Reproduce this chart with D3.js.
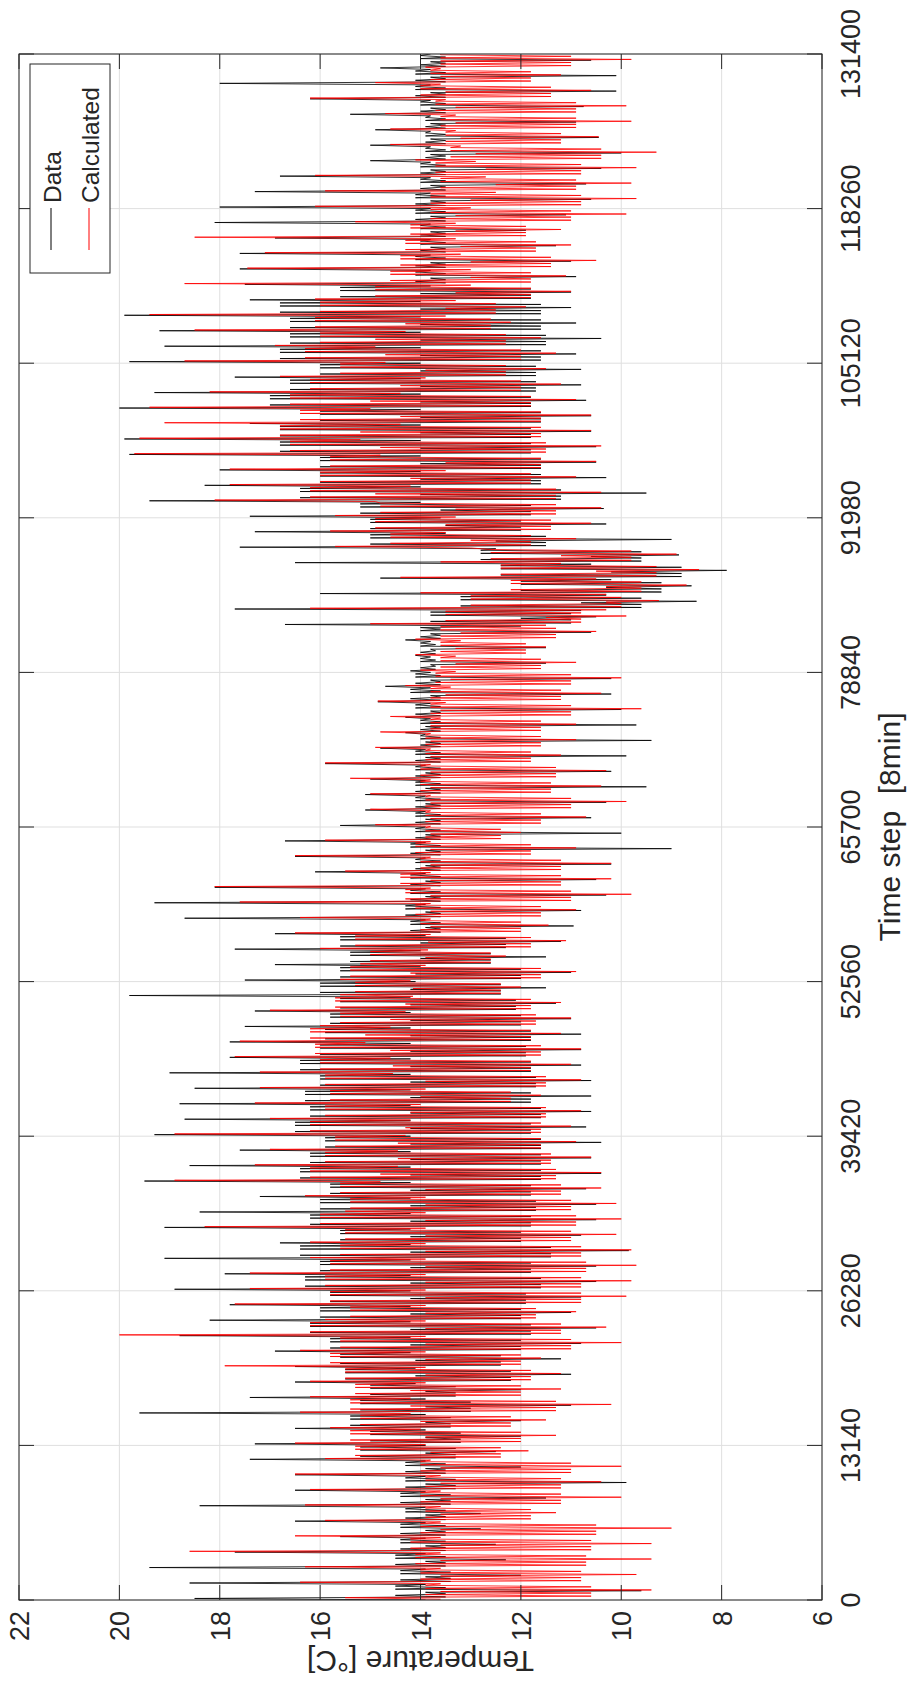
<!DOCTYPE html>
<html>
<head>
<meta charset="utf-8">
<script src="https://cdn.jsdelivr.net/npm/d3@7/dist/d3.min.js"></script>
<style>
  html, body { margin: 0; padding: 0; background: #fff; }
  text { font-family: "Liberation Sans", Arial, Helvetica, sans-serif; fill: #262626; }
</style>
</head>
<body>
<div id="chart"></div>
<script>
// time ticks (8 min steps) and temperature ticks
var timeTicks = [0, 13140, 26280, 39420, 52560, 65700, 78840, 91980, 105120, 118260, 131400];
var tempTicks = [6, 8, 10, 12, 14, 16, 18, 20, 22];
var binStep = 1314; // one bin = 1314 time steps, 100 bins

// Data (measured): baseline, outer spikes and the dense inner band, one value per bin
var dataBase = [13.9,13.9,13.9,13.9,13.9,13.9,13.9,13.9,13.9,13.9,
  13.9,13.9,13.9,13.9,14.1,14.1,14.2,14.2,14.2,14.2,
  14.2,14.2,14.2,14.2,14.2,14.2,14.2,14.2,14.2,14.2,
  14.2,14.2,14.2,14.2,14.2,14.2,14.2,14.2,14.2,14.2,
  14.1,14.0,14.0,13.9,13.9,13.9,13.9,13.9,13.9,13.9,
  13.9,13.9,13.9,13.9,13.9,13.9,13.9,13.8,13.8,13.8,
  13.8,13.8,13.8,12.0,10.8,10.3,10.2,10.6,12.5,13.5,
  13.6,14.0,14.0,14.0,14.0,14.0,14.0,14.0,14.0,14.0,
  14.0,14.0,14.0,14.0,14.0,13.8,13.8,13.8,13.8,13.8,
  13.8,13.8,13.8,13.8,13.8,13.8,13.8,13.8,13.8,13.8];
var dataHi = [18.5,18.6,19.4,17.7,15.6,16.5,18.4,16.5,16.5,17.4,
  17.3,16.5,19.6,17.4,16.5,16.5,16.9,18.8,18.2,17.8,
  18.9,17.9,19.1,16.8,19.1,18.4,17.2,19.5,18.6,17.6,
  19.3,18.7,18.8,18.5,19.0,17.8,17.8,17.5,17.3,19.8,
  17.5,16.9,17.7,16.9,18.7,19.3,18.1,16.1,16.5,16.7,
  15.6,15.1,15.1,15.0,15.9,14.8,14.3,14.3,14.85,14.7,
  14.2,14.1,14.3,16.7,17.7,16.0,14.8,16.5,17.6,17.3,
  17.4,19.4,18.3,18.0,19.8,19.9,17.4,20.0,19.3,17.7,
  19.8,19.1,19.2,19.9,17.4,17.5,17.6,17.6,16.9,18.1,
  18.0,17.3,16.8,15.0,15.0,14.9,15.4,16.2,18.0,14.8];
var dataLo = [9.6,12.0,12.3,12.5,12.8,12.8,11.5,9.9,12.0,12.5,
  12.0,12.0,11.0,12.0,11.0,11.2,10.8,10.5,11.0,10.8,
  10.5,10.5,9.85,10.8,10.5,10.5,10.7,10.4,10.6,10.4,
  10.7,10.6,10.6,10.6,10.8,10.8,10.8,11.0,11.3,11.5,
  11.0,11.5,11.2,10.95,10.8,10.3,10.5,10.2,9.0,10.0,
  10.6,10.3,9.5,10.2,9.9,9.4,9.7,10.0,10.2,10.2,
  11.5,11.5,10.6,10.5,8.5,8.6,7.9,8.85,9.0,10.3,
  10.35,9.5,10.3,10.5,10.5,10.6,10.6,10.7,10.8,10.8,
  10.9,10.4,10.9,11.0,11.0,10.9,11.0,11.3,11.9,11.1,
  10.6,10.7,10.4,10.0,10.45,10.9,10.75,10.1,10.1,10.6];
var dataInHi = [14.5,14.4,14.5,14.4,14.4,14.3,14.4,14.3,14.3,15.2,
  15.0,15.4,15.2,15.0,15.5,15.6,15.8,16.2,16.0,15.8,
  16.3,16.0,16.4,15.6,16.2,16.0,15.8,16.4,16.2,15.9,
  16.5,16.2,16.3,16.0,16.4,16.0,15.9,15.8,15.6,16.0,
  15.6,15.4,15.6,14.2,14.3,14.2,14.2,14.1,14.2,14.1,
  14.1,14.1,14.1,14.1,14.1,14.0,14.0,14.1,14.2,14.1,
  14.0,14.0,14.0,13.8,13.2,12.0,12.4,12.8,15.0,15.0,
  15.2,16.4,16.0,16.0,16.8,16.8,16.0,17.0,16.6,16.0,
  16.8,16.6,16.6,16.8,15.6,14.1,14.1,14.0,14.0,14.1,
  14.1,14.0,14.0,13.9,13.9,13.9,14.0,14.1,14.1,14.0];
var dataInLo = [13.5,13.4,13.5,13.5,13.5,13.5,13.4,13.3,13.5,13.3,
  13.2,13.4,13.0,13.3,12.2,12.4,12.0,11.8,12.0,11.9,
  11.6,11.8,11.4,12.0,11.8,11.7,11.8,11.6,11.6,11.6,
  11.8,11.6,11.8,11.7,11.8,11.9,11.8,12.0,12.1,12.4,
  12.0,12.6,12.3,13.6,13.6,13.6,13.6,13.6,13.6,13.6,
  13.6,13.6,13.6,13.6,13.6,13.6,13.6,13.6,13.6,13.6,
  13.7,13.7,13.6,11.0,9.6,9.2,8.8,9.6,11.5,12.0,
  11.8,11.2,11.6,11.6,11.8,11.8,11.6,11.8,11.7,11.7,
  11.6,11.5,11.6,11.6,11.8,13.5,13.5,13.5,13.5,13.5,
  13.5,13.5,13.5,13.5,13.5,13.5,13.5,13.5,13.5,13.5];

// Calculated: slow spine, outer spikes and the dense inner band
var calcMid = [13.6,13.6,13.6,13.6,13.6,13.6,13.6,13.6,13.6,13.8,
  13.9,14.0,14.2,14.2,13.9,13.9,13.9,13.9,13.9,13.9,
  13.9,13.9,13.9,13.9,13.9,13.9,13.9,14.8,14.45,14.45,
  14.3,14.2,14.0,13.9,14.55,14.6,15.1,14.6,14.3,14.15,
  14.2,13.9,13.85,13.8,13.8,13.8,13.8,13.8,13.8,13.8,
  13.8,13.8,13.8,13.8,13.8,13.8,13.8,13.6,13.5,13.4,
  13.3,13.3,13.2,11.5,10.3,10.3,10.5,11.2,13.0,13.5,
  13.3,14.9,14.2,13.5,14.8,15.2,14.4,15.0,14.4,13.9,
  14.7,14.9,14.3,13.5,13.3,13.0,13.0,13.2,13.3,13.3,
  13.0,12.5,12.7,12.9,13.2,13.3,13.3,13.5,13.6,13.6];
var calcHi = [15.5,16.4,16.3,18.6,16.5,15.9,16.3,16.2,16.5,15.9,
  16.5,15.8,16.4,16.2,16.2,17.9,16.4,20.0,15.9,17.7,
  17.4,17.4,16.2,16.2,18.3,15.5,16.3,18.9,17.3,17.0,
  18.9,17.0,17.3,17.2,17.2,17.7,17.6,16.0,17.0,15.6,
  15.6,15.2,16.0,16.5,16.4,17.6,18.1,15.5,16.5,15.9,
  14.9,15.0,15.0,15.4,15.9,14.9,14.8,14.6,14.85,14.3,
  14.0,14.1,14.1,15.0,16.2,14.0,14.4,13.6,15.7,15.8,
  15.7,18.1,17.8,17.8,19.7,19.6,19.1,19.4,18.2,16.8,
  18.7,16.9,18.5,19.4,16.1,18.7,17.45,17.1,18.5,15.3,
  16.1,15.9,16.1,14.1,14.6,14.6,14.7,16.2,14.9,13.9];
var calcLo = [9.4,9.7,9.4,9.4,9.0,11.3,10.0,10.4,10.0,11.85,
  11.3,11.5,10.2,11.2,11.2,11.6,10.0,10.3,10.9,9.9,
  9.8,9.7,9.8,10.1,10.0,10.1,10.4,10.4,10.6,10.9,
  11.0,10.8,11.6,10.8,11.0,10.8,11.2,11.0,11.2,12.0,
  10.9,12.3,11.1,11.45,10.9,9.8,10.2,10.2,10.9,12.0,
  10.7,9.9,10.4,10.3,11.2,10.9,10.9,9.6,10.4,10.0,
  10.9,11.5,10.5,9.9,9.25,8.7,8.45,8.9,10.9,10.6,
  10.4,10.4,10.9,10.5,10.4,10.6,10.6,10.9,11.2,11.5,
  11.3,11.6,12.2,11.9,11.0,11.1,10.5,11.0,11.2,9.9,
  9.7,9.8,9.7,9.3,10.45,9.8,9.9,10.6,11.2,9.8];
var calcInHi = [13.9,14.0,14.1,14.2,14.0,13.9,14.0,13.9,14.0,15.3,
  15.4,15.2,15.4,15.3,15.5,15.8,15.6,16.2,15.4,15.8,
  15.9,15.8,15.6,15.5,16.0,15.4,15.6,16.2,15.9,15.7,
  16.2,15.9,15.8,15.9,16.0,16.1,16.2,15.6,15.7,15.3,
  15.4,15.0,15.3,14.0,14.1,14.3,14.4,14.0,14.1,13.9,
  13.9,13.9,14.0,14.0,13.9,13.9,13.8,13.8,13.8,13.7,
  13.6,13.6,13.6,13.5,13.0,12.2,12.4,12.6,14.6,14.9,
  14.8,16.2,16.0,15.8,16.6,16.8,16.4,16.6,16.2,15.6,
  16.3,16.0,16.1,16.0,14.9,14.6,14.4,14.3,14.2,13.8,
  13.8,13.6,13.7,13.4,13.5,13.6,13.7,14.0,13.8,13.6];
var calcInLo = [10.6,10.8,10.7,10.6,10.5,11.8,11.2,11.2,11.0,12.4,
  12.0,12.2,11.3,12.0,11.8,12.0,11.0,11.2,11.7,10.8,
  10.8,10.7,10.8,11.0,10.9,11.0,11.2,11.3,11.4,11.6,
  11.6,11.5,12.2,11.5,11.8,11.6,11.8,11.7,11.8,12.4,
  11.6,12.6,11.8,12.0,11.6,11.0,11.2,11.2,11.8,12.4,
  11.6,11.0,11.4,11.3,11.8,11.6,11.6,11.0,11.2,11.0,
  11.6,11.9,11.3,10.8,10.0,9.6,9.3,9.8,11.8,11.4,
  11.3,11.3,11.8,11.6,11.5,11.6,11.6,11.8,12.0,12.3,
  12.0,12.3,12.6,12.5,11.8,11.8,11.4,11.7,11.9,11.0,
  10.8,10.9,10.8,10.4,11.2,10.9,10.9,11.4,11.8,11.0];

var W = 907, H = 1684;

// the figure is drawn in landscape and turned a quarter turn
var x = d3.scaleLinear().domain([0, 131400]).range([84, 1630]);
var y = d3.scaleLinear().domain([6, 22]).range([822, 19]);

var svg = d3.select("#chart").append("svg")
    .attr("width", W)
    .attr("height", H);

var g = svg.append("g").attr("transform", "translate(0," + H + ") rotate(-90)");

g.append("clipPath").attr("id", "plotClip")
  .append("rect")
    .attr("x", x(0)).attr("y", y(22))
    .attr("width", x(131400) - x(0)).attr("height", y(6) - y(22));

// grid
var grid = g.append("g").attr("stroke", "#dfdfdf").attr("stroke-width", 1);
grid.selectAll("line.v").data(timeTicks).enter().append("line")
    .attr("x1", function (d) { return x(d); }).attr("x2", function (d) { return x(d); })
    .attr("y1", y(22)).attr("y2", y(6));
grid.selectAll("line.h").data(tempTicks).enter().append("line")
    .attr("x1", x(0)).attr("x2", x(131400))
    .attr("y1", function (d) { return y(d); }).attr("y2", function (d) { return y(d); });

// walk each bin: baseline, spike up, through the dense band, baseline, spike down, band again
function buildSeries(base, hi, lo, inHi, inLo, offset) {
    var pts = [];
    base.forEach(function (b, i) {
        var seq = [b, hi[i], inLo[i], inHi[i], inLo[i], b, lo[i], inHi[i], inLo[i], inHi[i]];
        seq.forEach(function (v, k) {
            pts.push([i * binStep + offset + k * binStep / seq.length, v]);
        });
    });
    pts.push([131400, base[base.length - 1]]);
    return pts;
}

var line = d3.line()
    .x(function (d) { return x(d[0]); })
    .y(function (d) { return y(d[1]); });

var plot = g.append("g").attr("clip-path", "url(#plotClip)");

plot.append("path")
    .datum(buildSeries(dataBase, dataHi, dataLo, dataInHi, dataInLo, 0))
    .attr("fill", "none")
    .attr("stroke", "#000000")
    .attr("stroke-width", 0.8)
    .attr("stroke-linejoin", "bevel")
    .attr("d", line);

plot.append("path")
    .datum(buildSeries(calcMid, calcHi, calcLo, calcInHi, calcInLo, binStep / 20))
    .attr("fill", "none")
    .attr("stroke", "#ff0000")
    .attr("stroke-width", 0.8)
    .attr("stroke-linejoin", "bevel")
    .attr("d", line);

// box and inward ticks
var axisCol = "#262626";
g.append("rect")
    .attr("x", x(0)).attr("y", y(22))
    .attr("width", x(131400) - x(0)).attr("height", y(6) - y(22))
    .attr("fill", "none").attr("stroke", axisCol).attr("stroke-width", 1);

var ticks = g.append("g").attr("stroke", axisCol).attr("stroke-width", 1);
timeTicks.forEach(function (t) {
    ticks.append("line").attr("x1", x(t)).attr("x2", x(t)).attr("y1", y(6)).attr("y2", y(6) - 15);
    ticks.append("line").attr("x1", x(t)).attr("x2", x(t)).attr("y1", y(22)).attr("y2", y(22) + 15);
});
tempTicks.forEach(function (v) {
    ticks.append("line").attr("x1", x(0)).attr("x2", x(0) + 15).attr("y1", y(v)).attr("y2", y(v));
    ticks.append("line").attr("x1", x(131400)).attr("x2", x(131400) - 15).attr("y1", y(v)).attr("y2", y(v));
});

// tick labels
g.selectAll("text.tl").data(timeTicks).enter().append("text")
    .attr("x", function (d) { return x(d); })
    .attr("y", 860)
    .attr("text-anchor", "middle")
    .attr("font-size", 27)
    .text(function (d) { return d; });

g.selectAll("text.yl").data(tempTicks).enter().append("text")
    .attr("x", 73)
    .attr("y", function (d) { return y(d) + 10; })
    .attr("text-anchor", "end")
    .attr("font-size", 27)
    .text(function (d) { return d; });

// axis titles
g.append("text")
    .attr("x", (x(0) + x(131400)) / 2)
    .attr("y", 900)
    .attr("text-anchor", "middle")
    .attr("font-size", 30)
    .attr("xml:space", "preserve")
    .text("Time step  [8min]");

g.append("text")
    .attr("transform", "translate(33," + (y(6) + y(22)) / 2 + ") rotate(-90)")
    .attr("text-anchor", "middle")
    .attr("font-size", 30)
    .text("Temperature [\u00B0C]");

// legend
var leg = g.append("g");
leg.append("rect")
    .attr("x", 1411).attr("y", 30).attr("width", 209).attr("height", 80)
    .attr("fill", "#fff").attr("stroke", axisCol).attr("stroke-width", 1);
var legItems = [{ name: "Data", color: "#000000", v: 51 }, { name: "Calculated", color: "#ff0000", v: 89 }];
legItems.forEach(function (d) {
    leg.append("line")
        .attr("x1", 1434).attr("x2", 1476).attr("y1", d.v).attr("y2", d.v)
        .attr("stroke", d.color).attr("stroke-width", 1);
    leg.append("text")
        .attr("x", 1481).attr("y", d.v + 9.5)
        .attr("font-size", 24.5)
        .text(d.name);
});
</script>
</body>
</html>
